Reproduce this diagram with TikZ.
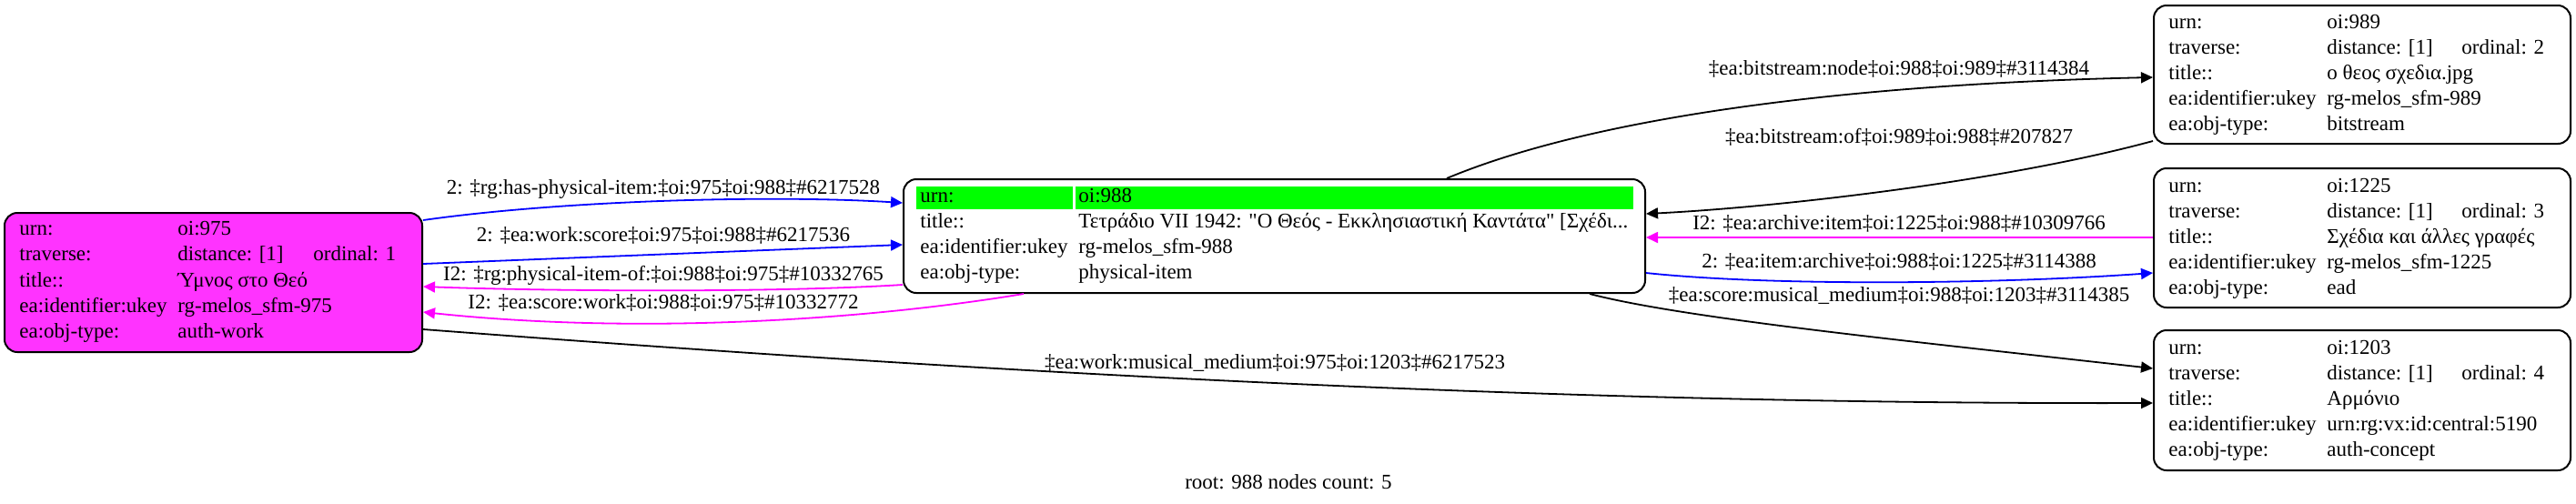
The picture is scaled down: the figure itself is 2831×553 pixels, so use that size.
\documentclass[tikz,border=0pt]{standalone}
\usepackage{fontspec}
\setmainfont{Liberation Serif}
\usepackage{graphicx}
\usetikzlibrary{arrows.meta}
\definecolor{nodepink}{RGB}{255,51,255}
\definecolor{rootgreen}{RGB}{0,255,0}
\definecolor{edgeblue}{RGB}{0,0,255}
\definecolor{edgemag}{RGB}{255,0,255}
\newcommand\kvrow[5]{%
  \node[cell] (#1-k) at (#2,#3) {#4};
  \node[cell] (#1-v) at (#2+174,#3) {#5};}
\begin{document}
\begin{tikzpicture}[x=0.5pt,y=-0.5pt,
  every node/.style={font=\fontsize{11.5pt}{14pt}\selectfont},
  box/.style={draw=black, line width=1pt, rounded corners=7pt, inner sep=0pt},
  cell/.style={anchor=west, inner sep=0pt, text height=8pt, text depth=2.5pt},
  lbl/.style={inner sep=0pt, text height=8pt, text depth=2.5pt},
  link/.style={line width=0.9pt, -{Triangle[length=6.5pt,width=6pt]}},
  fwd/.style={link, draw=edgeblue},
  inv/.style={link, draw=edgemag},
  plain/.style={link, draw=black},
]
\useasboundingbox (0,0) rectangle (2831,553);

% ---- nodes (boxes)
\node[box, fill=nodepink, minimum width=229.5pt, minimum height=76.5pt] (n975) at (234.5,310.5) {};
\node[box, minimum width=407.5pt, minimum height=62.5pt] (n988) at (1400.5,259.5) {};
\node[box, minimum width=229pt, minimum height=76pt] (n989) at (2596,82) {};
\node[box, minimum width=229pt, minimum height=76.5pt] (n1225) at (2596,261.5) {};
\node[box, minimum width=229pt, minimum height=77pt] (n1203) at (2596,440) {};

% ---- root highlight
\fill[rootgreen] (1007,205) rectangle (1179,230);
\fill[rootgreen] (1182,205) rectangle (1795,230);

% ---- node 975
\kvrow{a1}{21}{253}{urn:}{oi:975}
\kvrow{a2}{21}{281}{traverse:}{distance: [1]}
\node[cell] (a2-o) at (344,281) {ordinal: 1};
\kvrow{a3}{21}{310}{title::}{Ύμνος στο Θεό}
\kvrow{a4}{21}{338}{ea:identifier:ukey}{rg-melos\_sfm-975}
\kvrow{a5}{21}{366}{ea:obj-type:}{auth-work}

% ---- node 988
\kvrow{b1}{1011}{217}{urn:}{oi:988}
\kvrow{b2}{1011}{245}{title::}{\resizebox{302pt}{\height}{Τετράδιο VII 1942: \textquotedbl Ο Θεός - Εκκλησιαστική Καντάτα\textquotedbl{} [Σχέδι...}}
\kvrow{b3}{1011}{273}{ea:identifier:ukey}{rg-melos\_sfm-988}
\kvrow{b4}{1011}{301}{ea:obj-type:}{physical-item}

% ---- node 989
\kvrow{c1}{2383}{26}{urn:}{oi:989}
\kvrow{c2}{2383}{54}{traverse:}{distance: [1]}
\node[cell] (c2-o) at (2705,54) {ordinal: 2};
\kvrow{c3}{2383}{82}{title::}{ο θεος σχεδια.jpg}
\kvrow{c4}{2383}{110}{ea:identifier:ukey}{rg-melos\_sfm-989}
\kvrow{c5}{2383}{138}{ea:obj-type:}{bitstream}

% ---- node 1225
\kvrow{d1}{2383}{206}{urn:}{oi:1225}
\kvrow{d2}{2383}{234}{traverse:}{distance: [1]}
\node[cell] (d2-o) at (2705,234) {ordinal: 3};
\kvrow{d3}{2383}{262}{title::}{Σχέδια και άλλες γραφές}
\kvrow{d4}{2383}{290}{ea:identifier:ukey}{rg-melos\_sfm-1225}
\kvrow{d5}{2383}{318}{ea:obj-type:}{ead}

% ---- node 1203
\kvrow{e1}{2383}{384}{urn:}{oi:1203}
\kvrow{e2}{2383}{412}{traverse:}{distance: [1]}
\node[cell] (e2-o) at (2705,412) {ordinal: 4};
\kvrow{e3}{2383}{440}{title::}{Αρμόνιο}
\kvrow{e4}{2383}{468}{ea:identifier:ukey}{urn:rg:vx:id:central:5190}
\kvrow{e5}{2383}{496}{ea:obj-type:}{auth-concept}

% ---- connectors
\draw[fwd] (n975.east |- 0,242) .. controls (620,220) and (850,214) .. (n988.west |- 0,223);
\draw[fwd] (n975.east |- 0,290) -- (n988.west |- 0,269);
\draw[inv] (n988.west |- 0,313) .. controls (850,322) and (600,320) .. (n975.east |- 0,315);
\draw[inv] (n988.south -| 1125,0) .. controls (950,352) and (700,368) .. (n975.east |- 0,343);
\draw[plain] (n975.east |- 0,362) .. controls (900,395) and (1600,445) .. (n1203.west |- 0,443);
\draw[plain] (n988.north -| 1590,0) .. controls (1760,125) and (2050,92) .. (n989.west |- 0,85);
\draw[plain] (n989.west |- 0,155) .. controls (2200,200) and (1950,228) .. (n988.east |- 0,235);
\draw[inv] (n1225.west |- 0,261) -- (n988.east |- 0,261);
\draw[fwd] (n988.east |- 0,300) .. controls (1950,315) and (2200,312) .. (n1225.west |- 0,300);
\draw[plain] (n988.south -| 1747,0) .. controls (1850,350) and (2100,375) .. (n1203.west |- 0,405);

% ---- connector labels
\node[lbl] (l1) at (729,208) {2: ‡rg:has-physical-item:‡oi:975‡oi:988‡\#6217528};
\node[lbl] (l2) at (729,260) {2: ‡ea:work:score‡oi:975‡oi:988‡\#6217536};
\node[lbl] (l3) at (729,303) {I2: ‡rg:physical-item-of:‡oi:988‡oi:975‡\#10332765};
\node[lbl] (l4) at (729,334) {I2: ‡ea:score:work‡oi:988‡oi:975‡\#10332772};
\node[lbl] (l5) at (2087,77) {‡ea:bitstream:node‡oi:988‡oi:989‡\#3114384};
\node[lbl] (l6) at (2087,152) {‡ea:bitstream:of‡oi:989‡oi:988‡\#207827};
\node[lbl] (l7) at (2087,247) {I2: ‡ea:archive:item‡oi:1225‡oi:988‡\#10309766};
\node[lbl] (l8) at (2087,289) {2: ‡ea:item:archive‡oi:988‡oi:1225‡\#3114388};
\node[lbl] (l9) at (2087,326) {‡ea:score:musical\_medium‡oi:988‡oi:1203‡\#3114385};
\node[lbl] (l10) at (1401,400) {‡ea:work:musical\_medium‡oi:975‡oi:1203‡\#6217523};
\node[lbl] (root) at (1416,532) {root: 988 nodes count: 5};
\end{tikzpicture}
\end{document}
